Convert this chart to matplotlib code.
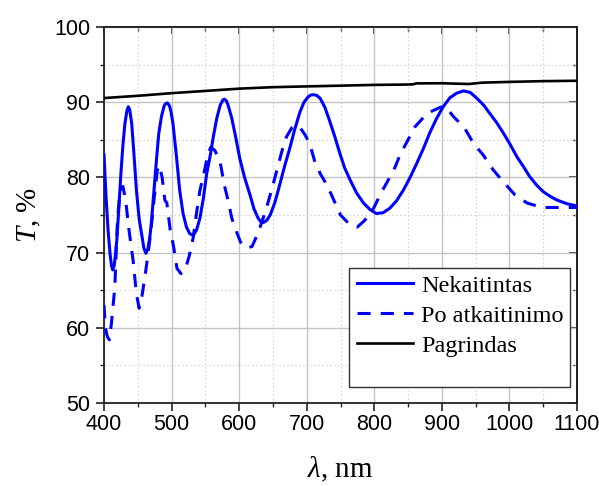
import matplotlib
matplotlib.use("Agg")
import matplotlib.pyplot as plt
from matplotlib.patches import Rectangle
from matplotlib.ticker import MultipleLocator

# Nekaitintas (solid blue)
wl_solid = [400, 403, 406, 409, 411, 413, 415, 417, 419, 422, 425, 428, 431, 434, 436, 438,
            441, 444, 448, 452, 456, 459, 462, 465, 468, 470, 474, 478, 481, 485, 489, 491,
            494, 497, 499, 502, 507, 512, 517, 522, 527, 532, 537, 542, 547, 552, 557, 562,
            567, 572, 576, 578, 581, 584, 589, 595, 601, 608, 616, 622, 628, 632, 636, 641,
            646, 653, 660, 667, 675, 682, 690, 696, 702, 706, 710, 715, 720, 727, 734, 742,
            749, 756, 764, 774, 784, 794, 803, 813, 823, 833, 843, 853, 863, 873, 882, 892,
            902, 912, 922, 932, 942, 952, 962, 971, 981, 991, 1001, 1011, 1021, 1030, 1040,
            1050, 1060, 1070, 1085, 1100]
t_solid = [83.0, 77.5, 73.0, 69.8, 68.3, 67.7, 68.2, 69.8, 71.7, 76.0, 80.5, 84.3, 87.2, 88.9, 89.4, 89.0,
           87.2, 83.5, 78.3, 74.5, 72.3, 70.6, 69.9, 70.5, 72.2, 73.9, 78.3, 82.7, 85.8, 88.1, 89.5, 89.8,
           89.9, 89.5, 88.8, 87.2, 83.0, 78.3, 75.2, 73.4, 72.5, 72.3, 73.0, 74.6, 77.2, 80.5, 82.8, 85.5,
           87.9, 89.6, 90.3, 90.4, 90.2, 89.5, 87.9, 85.3, 82.5, 80.0, 77.7, 75.8, 74.6, 74.1, 74.0, 74.3,
           75.0, 76.7, 79.0, 81.4, 83.9, 86.3, 88.7, 90.0, 90.7, 90.95, 91.0, 90.9, 90.5, 89.3, 87.5, 85.3,
           83.2, 81.3, 79.7, 77.9, 76.6, 75.7, 75.2, 75.3, 75.9, 76.9, 78.3, 80.0, 81.9, 83.9, 85.9, 87.8,
           89.4, 90.6, 91.2, 91.5, 91.3, 90.5, 89.6, 88.5, 87.3, 85.9, 84.4, 82.75, 81.4, 80.1, 79.0,
           78.1, 77.5, 77.0, 76.5, 76.2]

# Po atkaitinimo (dashed blue)
wl_dash = [400, 402, 405, 408, 411, 416, 420, 424, 428, 432, 437, 443, 448, 452, 456, 462,
           469, 474, 479, 482, 486, 490, 493, 498, 503, 508, 514, 520, 526, 532, 537,
           542, 549, 554, 558, 564, 572, 578, 584, 589, 596, 602, 610, 619, 628, 639,
           647, 656, 663, 670, 678, 688, 698, 705, 712, 720, 731, 741, 750, 764, 775,
           786, 799, 811, 821, 831, 838, 850, 860, 878, 897, 905, 917, 927, 934, 947,
           961, 976, 991, 1008, 1026, 1048, 1068, 1100]
t_dash = [63.0, 60.0, 58.8, 58.4, 60.6, 65.4, 74.5, 78.3, 78.8, 77.0, 73.0, 69.0, 64.5, 62.6, 64.1, 67.7,
          72.5, 77.0, 81.0, 81.6, 80.0, 77.0, 76.6, 73.0, 70.8, 67.9, 67.2, 67.7, 69.5, 72.0, 75.3,
          78.3, 81.0, 83.2, 84.0, 83.6, 82.0, 79.0, 76.8, 74.6, 72.8, 71.4, 70.6, 70.8, 72.6, 75.5,
          78.0, 81.0, 83.4, 85.4, 86.6, 86.9, 85.6, 84.3, 82.1, 80.5, 78.8, 76.8, 75.0, 73.7, 73.4,
          74.3, 75.9, 78.1, 79.7, 81.4, 83.0, 85.0, 86.7, 88.5, 89.3, 89.5, 88.1, 87.2, 86.5, 84.5,
          83.0, 81.0, 79.4, 77.7, 76.6, 76.0, 76.0, 76.0]

# Pagrindas (black)
wl_sub = [400, 450, 500, 550, 600, 650, 700, 750, 800, 850, 858, 862, 900, 940, 960,
          1000, 1050, 1100]
t_sub = [90.55, 90.85, 91.2, 91.5, 91.8, 92.0, 92.1, 92.2, 92.3, 92.35, 92.38, 92.5, 92.52,
         92.42, 92.6, 92.7, 92.8, 92.85]

labels = ["Nekaitintas", "Po atkaitinimo", "Pagrindas"]

plt.rcParams["mathtext.fontset"] = "custom"
plt.rcParams["mathtext.rm"] = "Liberation Serif"
plt.rcParams["mathtext.it"] = "Liberation Serif:italic"

fig = plt.figure(figsize=(5.99, 4.86), dpi=100)
ax = fig.add_axes([104 / 599, 1 - 403 / 486, 473 / 599, 376 / 486])

ax.plot(wl_solid, t_solid, color="#0000ff", lw=2.2, label=labels[0], zorder=3)
ax.plot(wl_dash, t_dash, color="#0000ff", lw=2.2, dashes=(4.3, 3.3), label=labels[1], zorder=3)
ax.plot(wl_sub, t_sub, color="black", lw=1.9, label=labels[2], zorder=3)

ax.set_xlim(400, 1100)
ax.set_ylim(50, 100)
ax.xaxis.set_major_locator(MultipleLocator(100))
ax.xaxis.set_minor_locator(MultipleLocator(50))
ax.yaxis.set_major_locator(MultipleLocator(10))
ax.yaxis.set_minor_locator(MultipleLocator(5))

ax.grid(which="major", color="#c4c4c4", lw=1.0, zorder=0)
ax.grid(which="minor", color="#d4d4d4", lw=0.8, ls=(0, (1.5, 2)), zorder=0)
ax.set_axisbelow(True)

for s in ax.spines.values():
    s.set_linewidth(1.3)
    s.set_color("#222222")

ax.tick_params(which="major", direction="out", length=6, width=1.2, labelsize=15.5, pad=2,
               colors="#222222", labelcolor="black")
ax.tick_params(which="minor", direction="out", length=3.2, width=1.0, colors="#222222")
ax.tick_params(axis="y", which="major", pad=4)
for lab in ax.get_xticklabels() + ax.get_yticklabels():
    lab.set_fontfamily("Liberation Sans")

# mirrored ticks pointing inward on top and right
top = ax.secondary_xaxis("top")
top.xaxis.set_major_locator(MultipleLocator(100))
top.xaxis.set_minor_locator(MultipleLocator(50))
top.tick_params(which="major", direction="in", length=5, width=1.2, labeltop=False, colors="#222222")
top.tick_params(which="minor", direction="in", length=3.2, width=1.0, colors="#222222")
top.spines["top"].set_linewidth(1.3)
right = ax.secondary_yaxis("right")
right.yaxis.set_major_locator(MultipleLocator(10))
right.yaxis.set_minor_locator(MultipleLocator(5))
right.tick_params(which="major", direction="in", length=6, width=1.2, labelright=False, colors="#222222")
right.tick_params(which="minor", direction="in", length=3.2, width=1.0, colors="#222222")
right.spines["right"].set_linewidth(1.3)

ax.set_xlabel(r"$\lambda$, nm", fontfamily="Liberation Serif", fontsize=21, labelpad=14)
ax.set_ylabel(r"$T$, %", fontfamily="Liberation Serif", fontsize=21, labelpad=8)

# legend box (taller than the entries, as in the original)
box = Rectangle((349 / 599, 1 - 387 / 486), 221 / 599, 119 / 486, transform=fig.transFigure,
                facecolor="white", edgecolor="#333333", lw=1.0, zorder=5, clip_on=False)
ax.add_patch(box)
leg = ax.legend(loc="upper left", bbox_to_anchor=(352 / 599, 1 - 270 / 486),
                bbox_transform=fig.transFigure, frameon=False, handlelength=2.3,
                handletextpad=0.35, labelspacing=0.33, borderpad=0.2, borderaxespad=0,
                prop={"family": "Liberation Serif", "size": 17.5})
leg.set_zorder(6)

fig.savefig("out.png", dpi=100)
